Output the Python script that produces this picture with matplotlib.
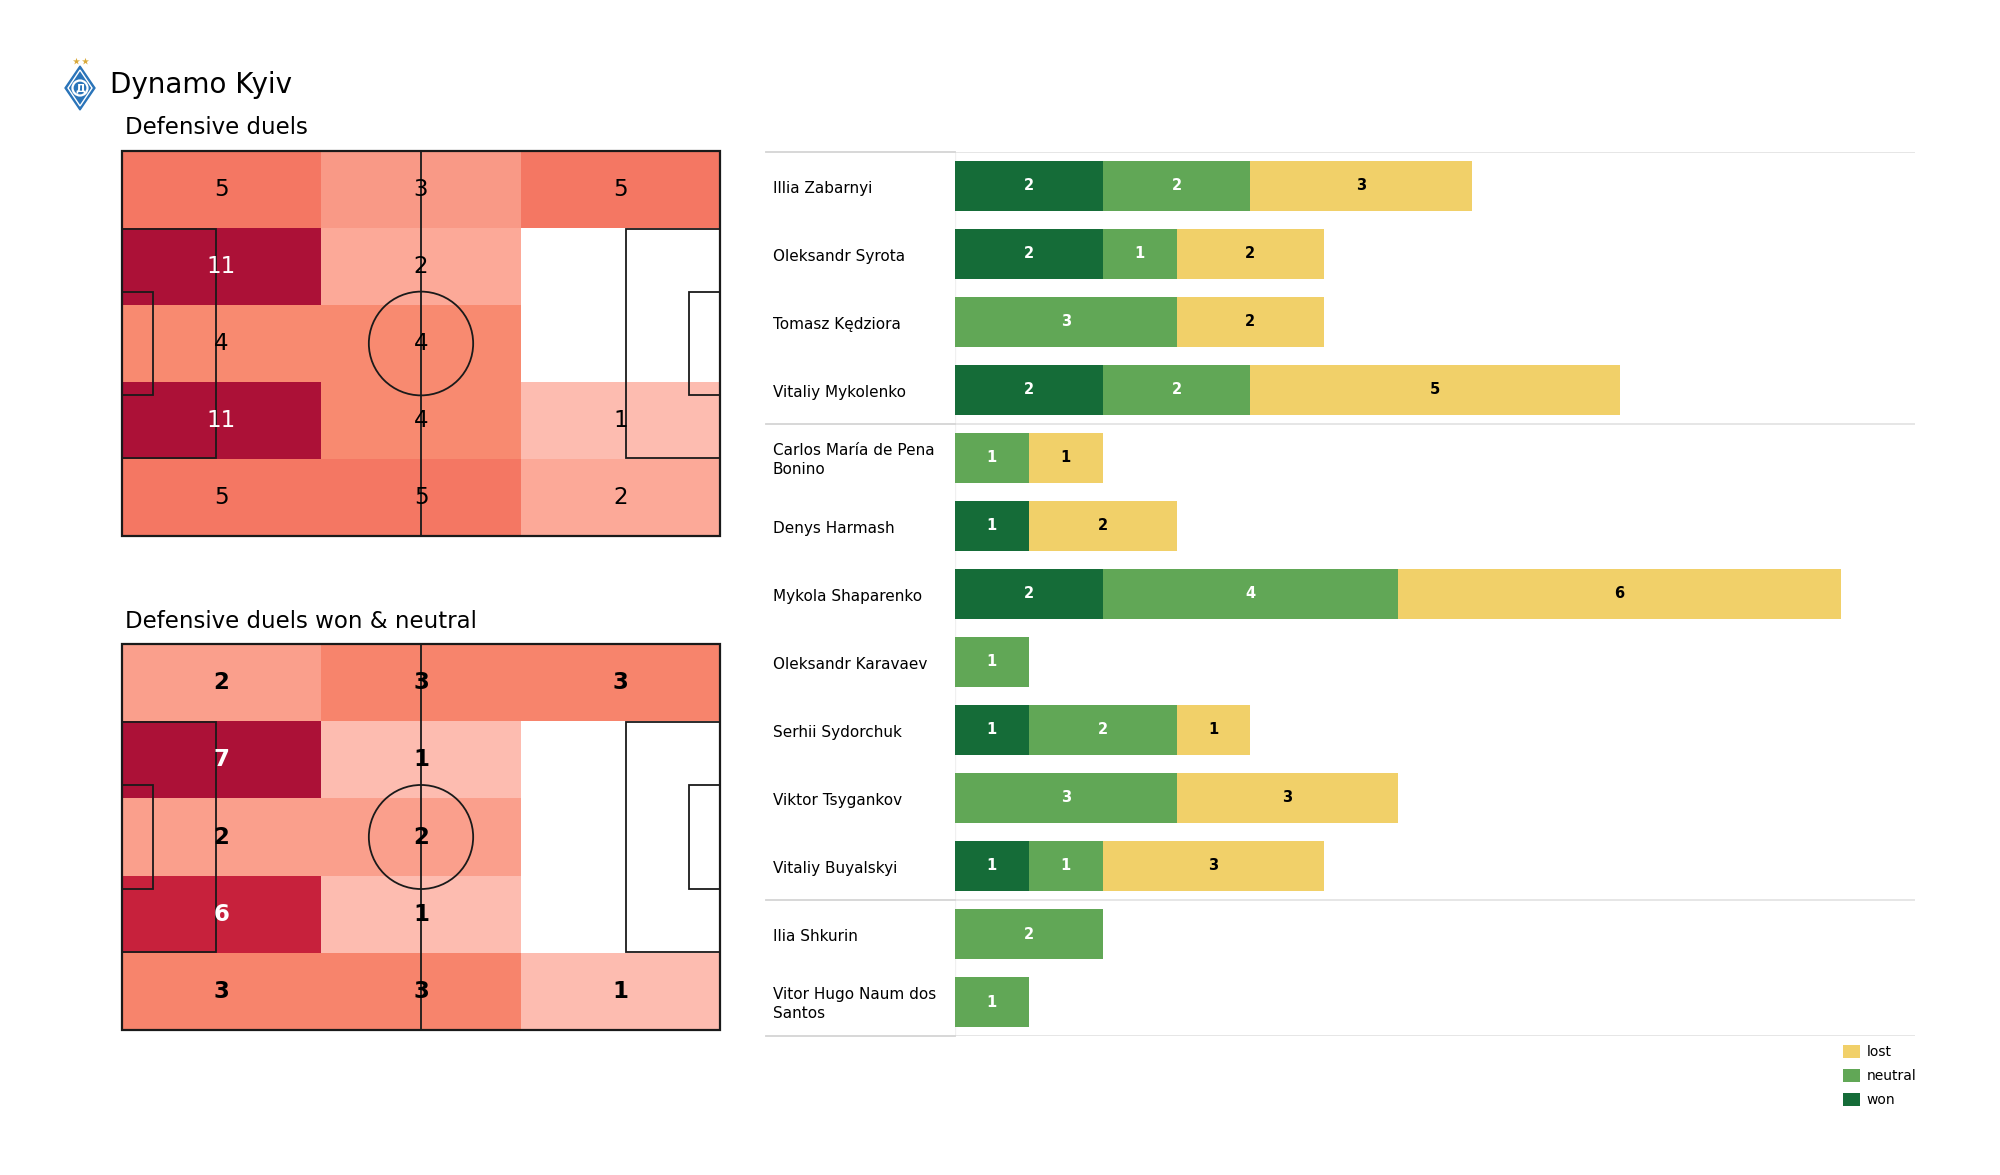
import numpy as np
import matplotlib
matplotlib.use("Agg")
import matplotlib.pyplot as plt
from matplotlib import transforms
from matplotlib.colors import LinearSegmentedColormap, Normalize
from matplotlib.patches import Rectangle, Circle, Polygon

# ---- data -----------------------------------------------------------------
# heatmap grids, rows top -> bottom, columns left -> right
duels_all = np.array([[5, 3, 5],
                      [11, 2, 0],
                      [4, 4, 0],
                      [11, 4, 1],
                      [5, 5, 2]])
duels_won_neutral = np.array([[2, 3, 3],
                              [7, 1, 0],
                              [2, 2, 0],
                              [6, 1, 0],
                              [3, 3, 1]])

players = ["Illia Zabarnyi", "Oleksandr Syrota", "Tomasz Kędziora",
           "Vitaliy Mykolenko", "Carlos María de Pena\nBonino", "Denys Harmash",
           "Mykola Shaparenko", "Oleksandr Karavaev", "Serhii Sydorchuk",
           "Viktor Tsygankov", "Vitaliy Buyalskyi", "Ilia Shkurin",
           "Vitor Hugo Naum dos\nSantos"]
won = [2, 2, 0, 2, 0, 1, 2, 0, 1, 0, 1, 0, 0]
neutral = [2, 1, 3, 2, 1, 0, 4, 1, 2, 3, 1, 2, 1]
lost = [3, 2, 2, 5, 1, 2, 6, 0, 1, 3, 3, 0, 0]
group_breaks = [3.5, 10.5]   # between defenders / midfielders / forwards

WON = "#156c38"
NEUTRAL = "#61a756"
LOST = "#f1d069"
LINE = "#1a1a1a"

# light salmon -> crimson, picked off the heatmap
HEAT = LinearSegmentedColormap.from_list("heat", [
    (0.0, "#fdbcb0"), (0.1, "#fca998"), (0.2, "#f99986"), (0.3, "#f88a70"),
    (0.4, "#f47763"), (0.6, "#e4474d"), (0.83, "#c8213c"), (1.0, "#ac1137")])
HEAT.set_bad("white")

W, H = 2000, 1175
fig = plt.figure(figsize=(W / 100, H / 100), dpi=100)
fig.patch.set_facecolor("white")


def px_rect(x0, y0, x1, y1):
    """figure rect from pixel box (top-left origin)"""
    return [x0 / W, 1 - y1 / H, (x1 - x0) / W, (y1 - y0) / H]


def draw_pitch(ax, grid, bold):
    norm = Normalize(vmin=1, vmax=grid.max())
    xe = np.linspace(0, 105, grid.shape[1] + 1)
    ye = np.linspace(0, 68, grid.shape[0] + 1)
    ax.pcolormesh(xe, ye, np.ma.masked_equal(grid, 0), cmap=HEAT, norm=norm,
                  edgecolors="face", linewidth=0, zorder=1)
    xc = (xe[:-1] + xe[1:]) / 2
    yc = (ye[:-1] + ye[1:]) / 2
    for i in range(grid.shape[0]):
        for j in range(grid.shape[1]):
            v = grid[i, j]
            if v == 0:
                continue
            col = "white" if norm(v) > 0.6 else "black"
            ax.text(xc[j], yc[i], str(v), ha="center", va="center", fontsize=16.5,
                    color=col, fontweight="bold" if bold else "normal", zorder=3)

    lw = 1.3
    kw = dict(fill=False, edgecolor=LINE, lw=lw, zorder=2)
    ax.add_patch(Rectangle((0, 0), 105, 68, fill=False, edgecolor=LINE, lw=1.6, zorder=2))
    ax.plot([52.5, 52.5], [0, 68], color=LINE, lw=lw, zorder=2)
    ax.add_patch(Circle((52.5, 34), 9.15, **kw))
    for x0, d in [(0, 1), (105, -1)]:
        ax.add_patch(Rectangle((x0, 34 - 20.15), d * 16.5, 40.3, **kw))
        ax.add_patch(Rectangle((x0, 34 - 9.15), d * 5.5, 18.3, **kw))
    ax.set_xlim(-0.3, 105.3)
    ax.set_ylim(68.3, -0.3)
    ax.axis("off")


# ---- header ---------------------------------------------------------------
logo = fig.add_axes(px_rect(62, 56, 98, 112))
logo.set_xlim(0, 36)
logo.set_ylim(0, 56)
logo.add_patch(Polygon([(18, 2), (33, 24), (18, 46), (3, 24)], closed=True,
                       facecolor="#2a74b9", edgecolor="#2a74b9", lw=1))
logo.add_patch(Polygon([(18, 6), (30, 24), (18, 42), (6, 24)], closed=True,
                       fill=False, edgecolor="white", lw=1.0))
logo.add_patch(Circle((18, 24), 7.5, fill=False, edgecolor="white", lw=1.6))
logo.text(18, 23.5, "Д", color="white", fontsize=8, fontweight="bold",
          ha="center", va="center")
logo.scatter([13.5, 22.5], [51, 51], marker="*", s=28, color="#d9a93a", lw=0)
logo.axis("off")

fig.text(110 / W, 1 - 93 / H, "Dynamo Kyiv", fontsize=20, va="baseline", ha="left")
fig.text(125 / W, 1 - 134 / H, "Defensive duels", fontsize=16.5, va="baseline", ha="left")
fig.text(125 / W, 1 - 628 / H, "Defensive duels won & neutral", fontsize=16.5,
         va="baseline", ha="left")

# ---- pitches --------------------------------------------------------------
ax1 = fig.add_axes(px_rect(120, 149, 722, 538))
draw_pitch(ax1, duels_all, bold=False)
ax2 = fig.add_axes(px_rect(120, 642, 722, 1032))
draw_pitch(ax2, duels_won_neutral, bold=True)

# ---- stacked bars -----------------------------------------------------------
ax = fig.add_axes(px_rect(955, 152, 1915, 1036))
y = np.arange(len(players))
won_a, neu_a, lost_a = map(np.array, (won, neutral, lost))
segments = [(won_a, np.zeros_like(won_a), WON, "won", "white"),
            (neu_a, won_a, NEUTRAL, "neutral", "white"),
            (lost_a, won_a + neu_a, LOST, "lost", "black")]
for vals, left, color, name, tcol in segments:
    bars = ax.barh(y, vals, left=left, height=0.74, color=color, label=name, zorder=2)
    ax.bar_label(bars, labels=[str(v) if v else "" for v in vals],
                 label_type="center", color=tcol, fontsize=10.5, fontweight="bold")

ax.set_xlim(0, 13)
ax.set_ylim(len(players) - 0.5, -0.5)
ax.set_xticks([])
ax.set_yticks([])
for s in ax.spines.values():
    s.set_visible(False)

name_x = -(955 - 766) / 960
for yy in [-0.5] + group_breaks + [len(players) - 0.5]:
    ax.axhline(yy, xmin=0, xmax=1, color="#e4e4e4", lw=1.3, zorder=1)
    ax.axhline(yy, xmin=name_x, xmax=0, color="#d4d4d4", lw=1.3, clip_on=False)
ax.axvline(0, color="#f0f0f0", lw=1, zorder=0)

trans = transforms.blended_transform_factory(fig.transFigure, ax.transData)
for yy, name in zip(y, players):
    ax.text(773 / W, yy + 0.03, name, transform=trans, ha="left", va="center",
            fontsize=11, linespacing=1.4)

h, l = ax.get_legend_handles_labels()
order = [2, 1, 0]
leg = fig.legend([h[i] for i in order], [l[i] for i in order],
                 loc="upper left", bbox_to_anchor=(1836 / W, 1 - 1038 / H),
                 frameon=False, fontsize=10, handlelength=1.2, handleheight=1.05,
                 handletextpad=0.5, labelspacing=0.7, borderpad=0)

fig.savefig("out.png", dpi=100, facecolor="white")
